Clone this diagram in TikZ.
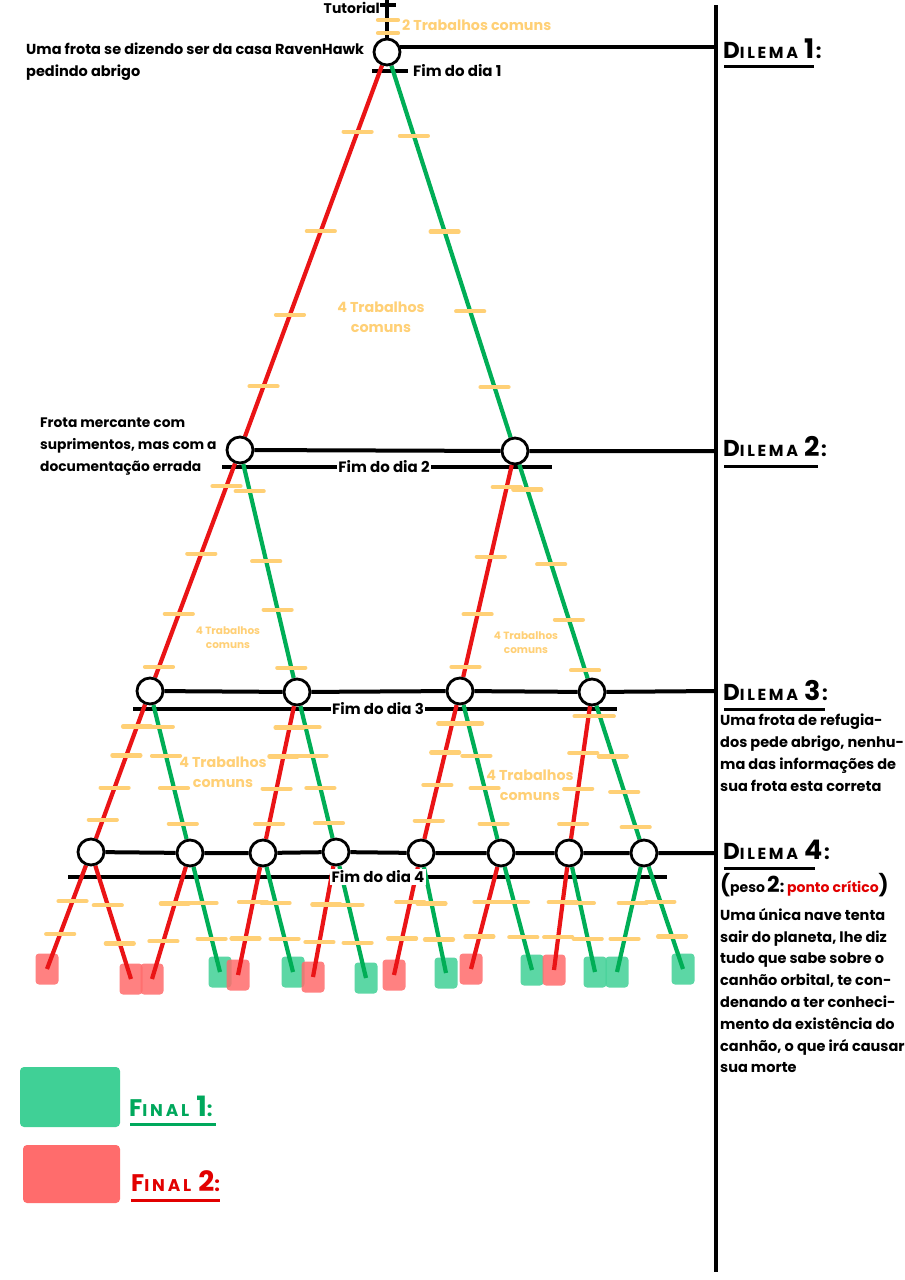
\documentclass[tikz,border=0pt]{standalone}
\usepackage{fontspec}
\setmainfont{Poppins}
\usetikzlibrary{calc}
\definecolor{lred}{RGB}{234,20,22}
\definecolor{lgreen}{RGB}{0,174,86}
\definecolor{tickc}{RGB}{255,208,118}
\definecolor{bgreen}{RGB}{64,208,150}
\definecolor{bred}{RGB}{255,108,108}
\definecolor{pred}{RGB}{226,0,0}
\definecolor{fgreen}{RGB}{0,168,92}
\pgfdeclarelayer{boxes}
\pgfdeclarelayer{lines}
\pgfsetlayers{boxes,lines,main}
\tikzset{
  state/.style={circle, draw=black, line width=2.8pt, fill=white, minimum size=26pt, inner sep=0pt},
  rline/.style={draw=lred, line width=4.2pt},
  gline/.style={draw=lgreen, line width=4.2pt},
  bline/.style={draw=black, line width=4pt},
  tickmark/.style={draw=tickc, line width=4.2pt, line cap=round},
  endbox/.style={rectangle, rounded corners=3.5pt, fill opacity=0.85, minimum width=23pt, minimum height=31pt, inner sep=0pt},
  endg/.style={endbox, fill=bgreen},
  endr/.style={endbox, fill=bred},
  body/.style={font=\bfseries\fontsize{14.5}{21.8}\selectfont, align=left, inner sep=0pt},
  yel/.style={text=tickc, font=\bfseries\fontsize{14.3}{20}\selectfont, align=center, inner sep=0pt},
  yelsmall/.style={text=tickc, font=\bfseries\fontsize{10.5}{14}\selectfont, align=center, inner sep=0pt},
  fim/.style={fill=white, font=\bfseries\fontsize{15}{16}\selectfont, inner sep=1.5pt},
  dil/.style={anchor=west, inner sep=0pt, font=\bfseries},
}
\newcommand\tk[3]{\foreach \p in {#3}{\draw[tickmark] ($(#1)!\p!(#2)+(-14,0)$) -- ++(28,0);}}
\newcommand\dilema[1]{{\fontsize{23}{23}\selectfont D}{\fontsize{16}{16}\selectfont I\,L\,E\,M\,A}\hspace{6pt}{\fontsize{27}{27}\selectfont #1}\,{\fontsize{20}{20}\selectfont :}}
\begin{document}
\begin{tikzpicture}[x=1pt,y=-1pt]
\useasboundingbox (0,0) rectangle (905,1280);
\begin{pgfonlayer}{boxes}
\fill[white] (0,0) rectangle (905,1280);
\end{pgfonlayer}

% ---- state nodes
\node[state] (n1) at (387,52) {};
\node[state] (n2a) at (240,450) {};
\node[state] (n2b) at (515,451) {};
\node[state] (n3a) at (150,691) {};
\node[state] (n3b) at (297,692) {};
\node[state] (n3c) at (460,691) {};
\node[state] (n3d) at (592,692) {};
\node[state] (n4a) at (91,852) {};
\node[state] (n4b) at (190,853) {};
\node[state] (n4c) at (263,853) {};
\node[state] (n4d) at (336,852) {};
\node[state] (n4e) at (421,853) {};
\node[state] (n4f) at (501,853) {};
\node[state] (n4g) at (569,853) {};
\node[state] (n4h) at (644,853) {};

\coordinate (top) at (716,5);
\coordinate (bot) at (716,1272);
\coordinate (m1) at (716,47);
\coordinate (m2) at (716,451);
\coordinate (m3) at (716,691);
\coordinate (m4) at (716,853);
\coordinate (tut) at (387,0);
\coordinate (tutl) at (380,5);
\coordinate (tutr) at (396,5);
\coordinate (h1) at (400,47);

% ---- final boxes
\begin{pgfonlayer}{boxes}
\node[endr] (f1) at (47,969) {};
\node[endr] (f2) at (131,979) {};
\node[endr] (f3) at (152,979) {};
\node[endg] (f4) at (220,972) {};
\node[endr] (f5) at (238,975) {};
\node[endg] (f6) at (293,972) {};
\node[endr] (f7) at (313,977) {};
\node[endg] (f8) at (366,978) {};
\node[endr] (f9) at (394,975) {};
\node[endg] (f10) at (446,973) {};
\node[endr] (f11) at (471,969) {};
\node[endg] (f12) at (532,970) {};
\node[endr] (f13) at (554,970) {};
\node[endg] (f14) at (595,972) {};
\node[endg] (f15) at (617,972) {};
\node[endg] (f16) at (683,969) {};
\end{pgfonlayer}

\begin{pgfonlayer}{lines}
% main vertical line
\draw[bline, line width=4.4pt] (top) -- (bot);
% tutorial stem
\draw[bline, line width=3.4pt] (tut) -- (n1);
\draw[bline, line width=3.4pt] (tutl) -- (tutr);
\draw[tickmark] (378,20) -- (398,20);
\draw[tickmark] (378,33) -- (398,33);
% dilemma lines
\draw[bline] (h1) -- (m1);
\draw[bline] (n2a) -- (n2b) -- (m2);
\draw[bline] (n3a) -- (n3b) -- (n3c) -- (n3d) -- (m3);
\draw[bline] (n4a) -- (n4b) -- (n4c) -- (n4d) -- (n4e) -- (n4f) -- (n4g) -- (n4h) -- (m4);
% end of day lines
\draw[bline, line width=3.4pt] (372,71) -- (408,71);
\draw[bline, line width=3.4pt] (222,467) -- (552,467);
\draw[bline, line width=3.4pt] (133,709) -- (617,709);
\draw[bline, line width=3.4pt] (68,877) -- (667,877);
% level 1
\draw[rline] (n1) -- (n2a);
\draw[gline] (n1) -- (n2b);
\tk{n1}{n2a}{0.2,0.45,0.66,0.84}
\tk{n1}{n2b}{0.21,0.45,0.65,0.84}
% level 2
\draw[rline] (n2a) -- (n3a);
\draw[gline] (n2a) -- (n3b);
\draw[rline] (n2b) -- (n3c);
\draw[gline] (n2b) -- (n3d);
\tk{n2a}{n3a}{0.15,0.43,0.68,0.9}
\tk{n2a}{n3b}{0.17,0.46,0.66,0.9}
\tk{n2b}{n3c}{0.15,0.44,0.68,0.9}
\tk{n2b}{n3d}{0.16,0.47,0.7,0.91}
% level 3
\draw[rline] (n3a) -- (n4a);
\draw[gline] (n3a) -- (n4b);
\draw[rline] (n3b) -- (n4c);
\draw[gline] (n3b) -- (n4d);
\draw[rline] (n3c) -- (n4e);
\draw[gline] (n3c) -- (n4f);
\draw[rline] (n3d) -- (n4g);
\draw[gline] (n3d) -- (n4h);
\tk{n3a}{n4a}{0.22,0.4,0.6,0.8}
\tk{n3a}{n4b}{0.22,0.4,0.6,0.82}
\tk{n3b}{n4c}{0.22,0.4,0.6,0.82}
\tk{n3b}{n4d}{0.22,0.4,0.6,0.82}
\tk{n3c}{n4e}{0.2,0.38,0.58,0.8}
\tk{n3c}{n4f}{0.2,0.4,0.6,0.82}
\tk{n3d}{n4g}{0.15,0.38,0.6,0.82}
\tk{n3d}{n4h}{0.15,0.4,0.62,0.84}
% level 4
\draw[rline] (n4a) -- (f1.center);
\draw[rline] (n4a) -- (f2.center);
\draw[rline] (n4b) -- (f3.center);
\draw[gline] (n4b) -- (f4.center);
\draw[rline] (n4c) -- (f5.center);
\draw[gline] (n4c) -- (f6.center);
\draw[rline] (n4d) -- (f7.center);
\draw[gline] (n4d) -- (f8.center);
\draw[rline] (n4e) -- (f9.center);
\draw[gline] (n4e) -- (f10.center);
\draw[rline] (n4f) -- (f11.center);
\draw[gline] (n4f) -- (f12.center);
\draw[rline] (n4g) -- (f13.center);
\draw[gline] (n4g) -- (f14.center);
\draw[gline] (n4h) -- (f15.center);
\draw[gline] (n4h) -- (f16.center);
\tk{n4a}{f1}{0.42,0.7}
\tk{n4a}{f2}{0.42,0.72}
\tk{n4b}{f3}{0.4,0.7}
\tk{n4b}{f4}{0.42,0.72}
\tk{n4c}{f5}{0.4,0.7}
\tk{n4c}{f6}{0.42,0.72}
\tk{n4d}{f7}{0.42,0.72}
\tk{n4d}{f8}{0.42,0.72}
\tk{n4e}{f9}{0.4,0.7}
\tk{n4e}{f10}{0.42,0.72}
\tk{n4f}{f11}{0.42,0.72}
\tk{n4f}{f12}{0.42,0.72}
\tk{n4g}{f13}{0.42,0.72}
\tk{n4g}{f14}{0.42,0.72}
\tk{n4h}{f15}{0.42,0.72}
\tk{n4h}{f16}{0.42,0.72}
\end{pgfonlayer}

% ---- texts
\node[anchor=east, inner sep=0pt, font=\bfseries\fontsize{14}{15}\selectfont] (tuttext) at (380,8) {Tutorial};
\node[yel, anchor=west] (t2) at (402,25) {2 Trabalhos comuns};
\node[body, anchor=north west] (q1) at (26,43) {Uma frota se dizendo ser da casa RavenHawk\\pedindo abrigo};
\node[anchor=west, inner sep=0pt, font=\bfseries\fontsize{15}{16}\selectfont] (fd1) at (413,71) {Fim do dia 1};
\node[yel] (w1) at (381,317) {4 Trabalhos\\comuns};
\node[body, font=\bfseries\fontsize{13.8}{21.8}\selectfont, anchor=north west] (q2) at (40,418) {Frota mercante com\\suprimentos, mas com a\\documentação errada};
\node[fim] (fd2) at (384,467) {Fim do dia 2};
\node[yelsmall] (w2a) at (228,638) {4 Trabalhos\\comuns};
\node[yelsmall] (w2b) at (526,643) {4 Trabalhos\\comuns};
\node[fim] (fd3) at (378,709) {Fim do dia 3};
\node[yel] (w3a) at (223,772) {4 Trabalhos\\comuns};
\node[yel] (w3b) at (530,785) {4 Trabalhos\\comuns};
\node[fim] (fd4) at (378,877) {Fim do dia 4};

% ---- dilemma labels
\node[dil] (d1) at (723,49) {\dilema{1}};
\draw[line width=3pt] (724,66) -- (814,66);
\node[dil] (d2) at (723,447) {\dilema{2}};
\draw[line width=3pt] (724,466) -- (818,466);
\node[dil] (d3) at (723,690) {\dilema{3}};
\draw[line width=3pt] (724,709) -- (825,709);
\node[body, anchor=north west] (q3) at (720,714) {Uma frota de refugia-\\dos pede abrigo, nenhu-\\ma das informações de\\sua frota esta correta};
\node[dil] (d4) at (723,850) {\dilema{4}};
\draw[line width=3pt] (724,868) -- (815,868);
\node[dil] (peso) at (720,885) {{\fontsize{21}{21}\selectfont (}{\fontsize{14}{14}\selectfont peso} {\fontsize{22}{22}\selectfont 2}{\fontsize{16}{16}\selectfont :} {\color{pred}\fontsize{14}{15}\selectfont ponto crítico}{\fontsize{21}{21}\selectfont )}};
\node[body, anchor=north west] (q4) at (720,908) {Uma única nave tenta\\sair do planeta, lhe diz\\tudo que sabe sobre o\\canhão orbital, te con-\\denando a ter conheci-\\mento da existência do\\canhão, o que irá causar\\sua morte};

% ---- legend
\node[rectangle, rounded corners=4pt, fill=bgreen, minimum width=100pt, minimum height=60pt, inner sep=0pt] (lg) at (70,1097) {};
\node[dil, text=fgreen] (lgt) at (129,1106) {{\fontsize{24}{24}\selectfont F}{\fontsize{17}{17}\selectfont I\,N\,A\,L}\hspace{7pt}{\fontsize{28}{28}\selectfont 1}{\fontsize{20}{20}\selectfont :}};
\draw[fgreen, line width=3pt] (130,1124) -- (216,1124);
\node[rectangle, rounded corners=4pt, fill=bred, minimum width=97pt, minimum height=58pt, inner sep=0pt] (lr) at (71.5,1174) {};
\node[dil, text=pred] (lrt) at (131,1181) {{\fontsize{24}{24}\selectfont F}{\fontsize{17}{17}\selectfont I\,N\,A\,L}\hspace{7pt}{\fontsize{28}{28}\selectfont 2}{\fontsize{20}{20}\selectfont :}};
\draw[pred, line width=3pt] (131,1200) -- (220,1200);
\end{tikzpicture}
\end{document}
